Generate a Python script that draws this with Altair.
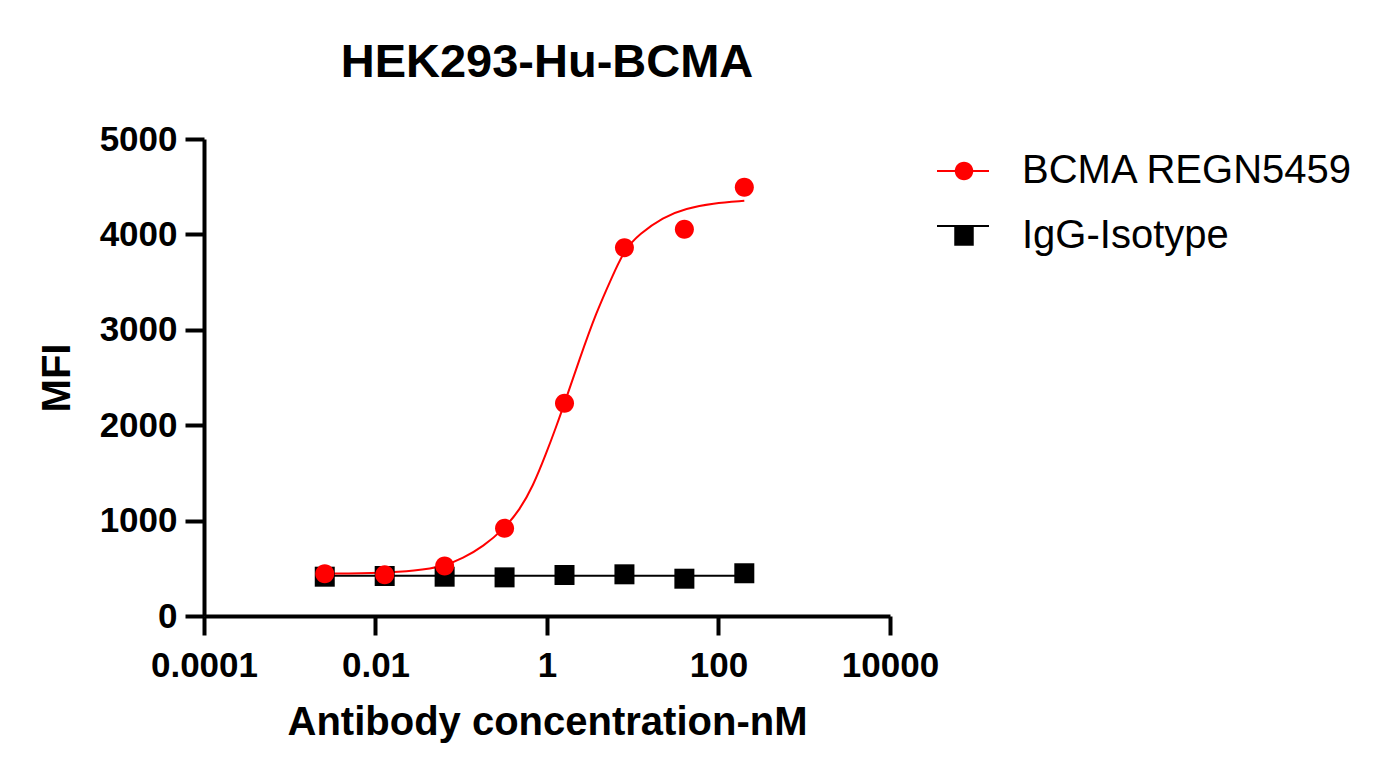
import altair as alt
import pandas as pd

TITLE = "HEK293-Hu-BCMA"
X_TITLE = "Antibody concentration-nM"
Y_TITLE = "MFI"
SERIES = ["BCMA REGN5459", "IgG-Isotype"]
COLORS = ["#ff0000", "#000000"]

CONC = [0.00256, 0.0128, 0.064, 0.32, 1.6, 8.0, 40.0, 200.0]
BCMA_MFI = [443, 432, 524, 919, 2230, 3860, 4053, 4494]
IGG_MFI = [412, 419, 412, 405, 430, 437, 391, 448]

BCMA_FIT_CONC = [0.00256, 0.0128, 0.0278, 0.064, 0.104, 0.179, 0.32, 0.479, 0.683,
                 0.98, 1.28, 1.6, 2.39, 3.74, 5.85, 8.0, 12.0, 22.4, 41.9, 85.5, 200.0]
BCMA_FIT_MFI = [443, 452, 472, 522, 605, 726, 919, 1111, 1355,
                1705, 1984, 2230, 2690, 3180, 3570, 3840, 4005, 4180, 4273, 4326, 4352]
IGG_FIT_CONC = [0.00256, 200.0]
IGG_FIT_MFI = [422, 422]

X_TICKS = [0.0001, 0.01, 1, 100, 10000]
Y_TICKS = [0, 1000, 2000, 3000, 4000, 5000]

FONT = "Liberation Sans"

# marker shapes (unit square -1..1)
PT_SHAPES = ["M0.95,0A0.95,0.95,0,1,1,-0.95,0A0.95,0.95,0,1,1,0.95,0Z",
             "M-1,-1H1V1H-1Z"]

pts = pd.DataFrame({
    "conc": CONC + CONC,
    "mfi": IGG_MFI + BCMA_MFI,
    "series": [SERIES[1]] * len(CONC) + [SERIES[0]] * len(CONC),
})
fit = pd.DataFrame({
    "conc": IGG_FIT_CONC + BCMA_FIT_CONC,
    "mfi": IGG_FIT_MFI + BCMA_FIT_MFI,
    "grp": [SERIES[1]] * len(IGG_FIT_CONC) + [SERIES[0]] * len(BCMA_FIT_CONC),
})

axis_common = dict(
    domainColor="black", domainWidth=4, tickColor="black", tickWidth=4, tickSize=19,
    labelFont=FONT, labelFontSize=35, labelFontWeight="bold", labelColor="black",
    titleFont=FONT, titleFontSize=40, titleFontWeight="bold", titleColor="black",
    grid=False, labelFlush=False, labelOverlap=False,
)

x_enc = alt.X("conc:Q",
              scale=alt.Scale(type="log", domain=[0.0001, 10000], nice=False),
              axis=alt.Axis(values=X_TICKS, format="~g", title=X_TITLE,
                            labelPadding=13, titlePadding=19, **axis_common))
y_enc = alt.Y("mfi:Q",
              scale=alt.Scale(domain=[0, 5000], nice=False, zero=True),
              axis=alt.Axis(values=Y_TICKS, format="d", title=Y_TITLE,
                            labelPadding=8, titlePadding=22, **axis_common))

# legend for the lines (symbols only, no label text)
line_legend = alt.Legend(
    title=None, orient="none", legendX=732, legendY=5, padding=0,
    symbolType="stroke", symbolSize=2704, symbolStrokeWidth=2,
    rowPadding=9, labelFontSize=38, labelExpr="''", labelOffset=30,
)
# legend for the markers (with labels)
point_legend = alt.Legend(
    title=None, orient="none", legendX=740, legendY=12, padding=0,
    symbolSize=380, symbolStrokeWidth=0, symbolOpacity=1,
    rowPadding=25, labelOffset=38, labelLimit=0,
    labelFont=FONT, labelFontSize=40, labelColor="black",
)

lines = alt.Chart(fit).mark_line(strokeWidth=2, interpolate="basis").encode(
    x=x_enc, y=y_enc,
    stroke=alt.Stroke("grp:N", scale=alt.Scale(range=COLORS), legend=line_legend),
)

points = alt.Chart(pts).mark_point(filled=True, size=400, opacity=1).encode(
    x=x_enc, y=y_enc,
    fill=alt.Fill("series:N", scale=alt.Scale(domain=SERIES, range=COLORS), legend=point_legend),
    shape=alt.Shape("series:N", scale=alt.Scale(domain=SERIES, range=PT_SHAPES), legend=point_legend),
)

chart = alt.layer(lines, points).properties(
    width=686, height=477,
    title=alt.TitleParams(text=TITLE, font=FONT, fontSize=47, fontWeight="bold",
                          color="black", anchor="middle", frame="group",
                          baseline="alphabetic", offset=-2),
    autosize=alt.AutoSizeParams(type="none"),
    padding={"left": 196, "top": 131, "right": 496, "bottom": 150},
    background="white",
).configure_view(stroke=None)

chart.save("out.html", embed_options={"renderer": "svg", "actions": False})
